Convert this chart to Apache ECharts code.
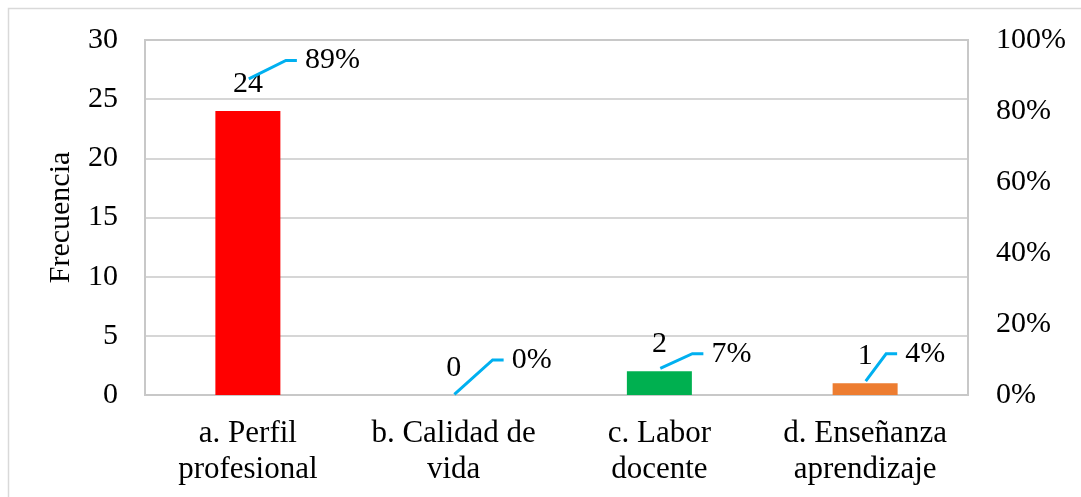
<!DOCTYPE html>
<html>
<head>
<meta charset="utf-8">
<script src="https://cdn.jsdelivr.net/npm/echarts@6/dist/echarts.min.js"></script>
<style>
  html, body { margin: 0; padding: 0; background: #ffffff; }
  #chart { width: 1081px; height: 497px; }
</style>
</head>
<body>
<div id="chart"></div>
<script>
// ---- data ----
const categories = ['a. Perfil\nprofesional', 'b. Calidad de\nvida', 'c. Labor\ndocente', 'd. Enseñanza\naprendizaje'];
const frequencies = [24, 0, 2, 1];
const percentages = [0.889, 0, 0.074, 0.037];
const leftTicks = { min: 0, max: 30, interval: 5 };
const rightTicks = { min: 0, max: 1, interval: 0.2 };

// ---- styles ----
const barColors = ['#FF0000', '#4472C4', '#00B050', '#ED7D31'];
const pctLabelShift = [[48, -19], [49, -35], [43, -15], [31, -28]];
const FONT = "'Liberation Serif', 'Times New Roman', serif";

const chart = echarts.init(document.getElementById('chart'), null, { renderer: 'canvas' });

chart.setOption({
  animation: false,
  backgroundColor: '#ffffff',
  textStyle: { fontFamily: FONT, color: '#000000' },
  graphic: [{
    type: 'rect',
    shape: { x: 8.5, y: 8.5, width: 1100, height: 520 },
    style: { fill: 'none', stroke: '#d9d9d9', lineWidth: 1.5 },
    silent: true
  }],
  grid: {
    left: 145, right: 113, top: 40, bottom: 102,
    show: true, borderColor: '#c8c8c8', borderWidth: 2, backgroundColor: 'transparent'
  },
  xAxis: {
    type: 'category',
    data: categories,
    axisLine: { show: false },
    axisTick: { show: false },
    axisLabel: {
      interval: 0, margin: 21, fontSize: 31, lineHeight: 36,
      fontFamily: FONT, color: '#000000', align: 'center'
    }
  },
  yAxis: [{
    type: 'value',
    min: leftTicks.min, max: leftTicks.max, interval: leftTicks.interval,
    name: 'Frecuencia', nameLocation: 'middle', nameRotate: 90, nameGap: 69,
    nameTextStyle: { fontSize: 30, fontFamily: FONT, color: '#000000' },
    axisLine: { show: false }, axisTick: { show: false },
    axisLabel: { fontSize: 30, margin: 27, fontFamily: FONT, color: '#000000' },
    splitLine: { show: true, lineStyle: { color: '#c8c8c8', width: 1.5 } }
  }, {
    type: 'value',
    min: rightTicks.min, max: rightTicks.max, interval: rightTicks.interval,
    axisLine: { show: false }, axisTick: { show: false },
    axisLabel: {
      fontSize: 30, margin: 28, fontFamily: FONT, color: '#000000',
      formatter: v => Math.round(v * 100) + '%'
    },
    splitLine: { show: false }
  }],
  series: [{
    type: 'bar',
    yAxisIndex: 0,
    barWidth: 65,
    data: frequencies.map((v, i) => ({ value: v, itemStyle: { color: barColors[i] } })),
    label: {
      show: true, position: 'top', distance: 12,
      fontSize: 30, fontFamily: FONT, color: '#000000'
    },
    z: 2
  }, {
    type: 'scatter',
    yAxisIndex: 1,
    symbol: 'circle',
    symbolSize: 2,
    itemStyle: { color: 'rgba(0,0,0,0)' },
    data: percentages,
    label: {
      show: true, position: 'right', distance: 0,
      padding: [0, 0, 0, 8], backgroundColor: 'rgba(255,255,255,0)',
      fontSize: 30, fontFamily: FONT, color: '#000000', opacity: 1,
      formatter: p => Math.round(p.value * 100) + '%'
    },
    labelLine: {
      show: true, length2: 11,
      lineStyle: { color: '#00B0F0', width: 3, opacity: 1 }
    },
    labelLayout: p => ({ dx: pctLabelShift[p.dataIndex][0], dy: pctLabelShift[p.dataIndex][1] }),
    z: 3
  }]
});
</script>
</body>
</html>
